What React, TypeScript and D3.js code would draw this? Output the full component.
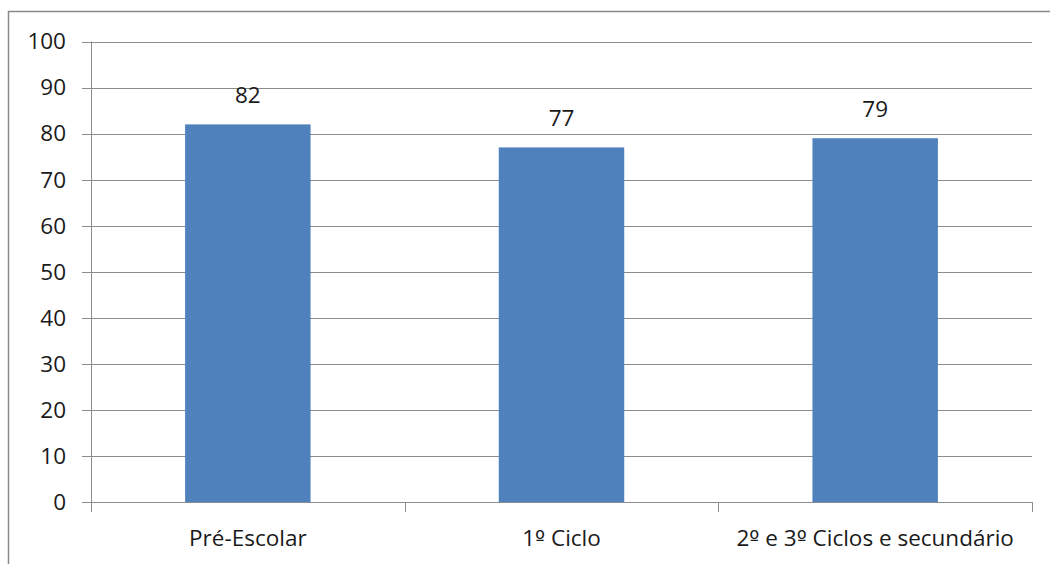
import React from "react";
import * as d3 from "d3";

const categories: string[] = ["Pré-Escolar", "1º Ciclo", "2º e 3º Ciclos e secundário"];
const values: number[] = [82, 77, 79];
const yTicks: number[] = [0, 10, 20, 30, 40, 50, 60, 70, 80, 90, 100];

const W = 1050;
const H = 564;
const left = 91;
const right = 1032;
const top = 41.5;
const bottom = 502;
const FONT = "'Open Sans', 'Noto Sans', sans-serif";
const FS = 22.5;

function Label({ text }: { text: string }) {
  const parts = text.split("º");
  return (
    <>
      {parts.map((p, i) => (
        <React.Fragment key={i}>
          {p}
          {i < parts.length - 1 ? (
            <tspan fontFamily="'DejaVu Sans', sans-serif" fontSize={FS * 0.95}>º</tspan>
          ) : null}
        </React.Fragment>
      ))}
    </>
  );
}

export default function App() {
  const x = d3.scaleBand<string>().domain(categories).range([left, right]).padding(0);
  const y = d3.scaleLinear().domain([0, 100]).range([bottom, top]);
  const bw = x.bandwidth() * 0.4;
  const boundaries = [...categories.map((c) => x(c) as number), right];

  return (
    <svg
      width={W}
      height={H}
      style={{ position: "absolute", left: 0, top: 0, background: "#fff" }}
      fontFamily={FONT}
    >
      <rect x={0} y={0} width={W} height={H} fill="#fff" />
      {/* outer frame */}
      <path d={`M8.5,${H + 2}V11.5H${W + 2}`} fill="none" stroke="#8a8a8a" strokeWidth={1.5} />
      {/* gridlines and y ticks */}
      {yTicks.map((t) => (
        <g key={t}>
          <line x1={82} x2={right} y1={Math.round(y(t)) + 0.5} y2={Math.round(y(t)) + 0.5} stroke="#8c8c8c" strokeWidth={1} />
          <text x={66} y={y(t)} dy="0.35em" textAnchor="end" fontSize={FS} fill="#1a1a1a">
            {t}
          </text>
        </g>
      ))}
      {/* y axis */}
      <line x1={left + 0.5} x2={left + 0.5} y1={top} y2={bottom + 10} stroke="#8c8c8c" />
      {/* x ticks */}
      {boundaries.map((b, i) => (
        <line key={i} x1={Math.round(b) + 0.5} x2={Math.round(b) + 0.5} y1={bottom} y2={bottom + 10} stroke="#8c8c8c" />
      ))}
      {/* bars */}
      {categories.map((c, i) => {
        const cx = (x(c) as number) + x.bandwidth() / 2;
        return (
          <g key={c}>
            <rect x={cx - bw / 2} y={y(values[i])} width={bw} height={bottom - y(values[i])} fill="#4F81BD" />
            <text x={cx} y={y(values[i]) - 21} textAnchor="middle" fontSize={FS} fill="#1a1a1a">
              {values[i]}
            </text>
            <text x={cx} y={546} textAnchor="middle" fontSize={FS} fill="#1a1a1a">
              <Label text={c} />
            </text>
          </g>
        );
      })}
    </svg>
  );
}
